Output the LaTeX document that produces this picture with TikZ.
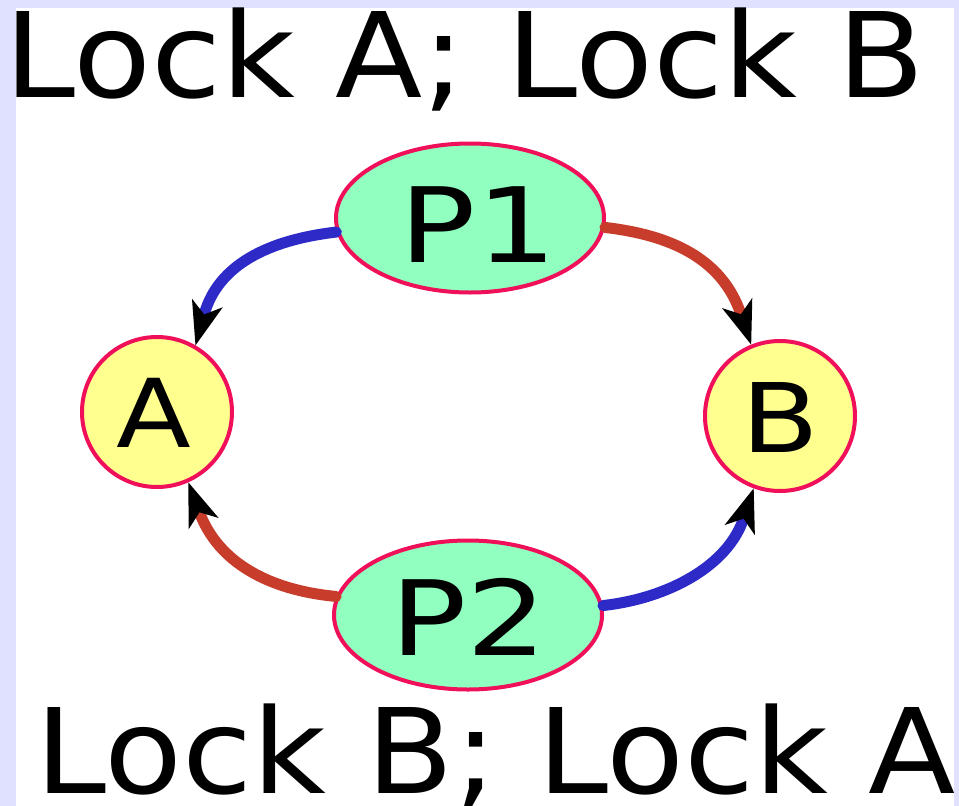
\documentclass[tikz,border=0pt]{standalone}
\usepackage{fontspec}
\setmainfont{DejaVu Sans}
\usetikzlibrary{shapes.geometric,arrows.meta}
\definecolor{bgl}{HTML}{E0E0FF}
\definecolor{mint}{HTML}{90FFC0}
\definecolor{lemon}{HTML}{FFFF90}
\definecolor{rim}{HTML}{F0105A}
\definecolor{blueedge}{HTML}{2E2AC8}
\definecolor{rededge}{HTML}{C83C2C}
\begin{document}
\begin{tikzpicture}[x=1pt,y=-1pt,
  proc/.style={ellipse, draw=rim, fill=mint, line width=4pt, minimum width=268pt, minimum height=149pt, inner sep=0pt},
  res/.style={circle, draw=rim, fill=lemon, line width=4pt, minimum size=150pt, inner sep=0pt},
  lbl/.style={inner sep=0pt, anchor=base},
  big/.style={inner sep=0pt, anchor=base west, font=\fontsize{118}{140}\selectfont},
  edge/.style={line width=11pt, line cap=round, -{Stealth[length=44pt,width=32pt,inset=12pt,line width=0pt,color=black]}},
]
\useasboundingbox (0,0) rectangle (959,806);
\fill[bgl] (0,0) rectangle (959,806);
\fill[white] (16,8) rectangle (954,806);

\node[big] (top) at (4.5,97) {\scalebox{1.08}[1]{Lock A; Lock B}};
\node[big] (bot) at (35.5,793) {\scalebox{1.08}[1]{Lock B; Lock A}};

\node[proc] (P1) at (470,218) {};
\node[proc] (P2) at (468,615) {};
\node[res] (A) at (157,412) {};
\node[res] (B) at (780,416) {};

\node[lbl, font=\fontsize{104}{120}\selectfont] (P1t) at (478.5,262) {\scalebox{1.22}[1]{P1}};
\node[lbl, font=\fontsize{104}{120}\selectfont] (P2t) at (469,655) {\scalebox{1.22}[1]{P2}};
\node[lbl, font=\fontsize{95}{110}\selectfont] (At) at (154,447) {\scalebox{1.15}[1]{A}};
\node[lbl, font=\fontsize{96}{110}\selectfont] (Bt) at (780,452) {\scalebox{1.18}[1]{B}};

\draw[edge, blueedge] (P1.186) .. controls (268,240) and (218,265) .. (A.60);
\draw[edge, rededge] (P1.356) .. controls (670,235) and (722,258) .. (B.112);
\draw[edge, rededge] (P2.172) .. controls (268,590) and (218,562) .. (A.294);
\draw[edge, blueedge] (P2.4) .. controls (670,598) and (728,565) .. (B.250);
\end{tikzpicture}
\end{document}
